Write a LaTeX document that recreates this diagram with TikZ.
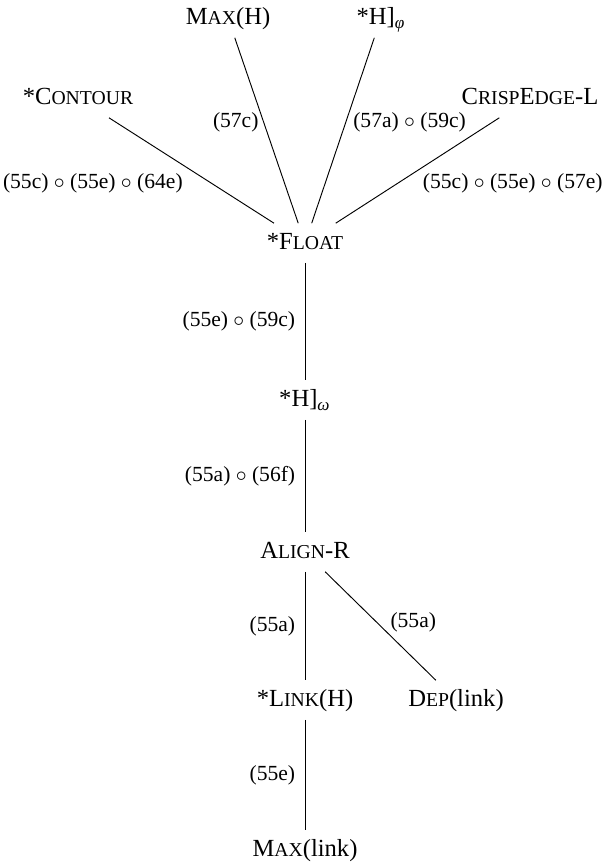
\documentclass[tikz,border=0pt]{standalone}
\usepackage{fontspec}
\setmainfont{Liberation Serif}
\usetikzlibrary{positioning}
\newcommand{\sca}[2]{#1{\fontsize{8.4pt}{10pt}\selectfont #2}}
\begin{document}
\begin{tikzpicture}[x=0.015cm,y=-0.015cm,
  cand/.style={font=\fontsize{10.5pt}{12pt}\selectfont, text height=8pt, text depth=2.5pt, inner sep=3pt},
  rule/.style={font=\fontsize{9.2pt}{11pt}\selectfont, inner sep=4pt}]
\useasboundingbox (0,0) rectangle (605,865);
\node[cand] (maxh) at (228,18) {\sca{M}{AX}(H)};
\node[cand] (hphi) at (381,18) {*H]\textsubscript{\itshape φ}};
\node[cand] (contour) at (78,98) {*\sca{C}{ONTOUR}};
\node[cand] (crisp) at (530,98) {\sca{C}{RISP}\sca{E}{DGE}-L};
\node[cand] (float) at (305,243) {*\sca{F}{LOAT}};
\node[cand] (homega) at (305,400) {*H]\textsubscript{\itshape ω}};
\node[cand] (align) at (305,552) {\sca{A}{LIGN}-R};
\node[cand] (link) at (305,700) {*\sca{L}{INK}(H)};
\node[cand] (dep) at (456,700) {\sca{D}{EP}(link)};
\node[cand] (maxlink) at (305,850) {\sca{M}{AX}(link)};

\draw (contour) -- node[rule, pos=0.62, left=8pt] {(55c) $\circ$ (55e) $\circ$ (64e)} (float);
\draw (maxh) -- node[rule, pos=0.455, left, inner sep=2pt] {(57c)} (float);
\draw (hphi) -- node[rule, pos=0.455, right, inner sep=3pt] {(57a) $\circ$ (59c)} (float);
\draw (crisp) -- node[rule, pos=0.62, right=6.5pt] {(55c) $\circ$ (55e) $\circ$ (57e)} (float);

\draw (float) -- node[rule, left] {(55e) $\circ$ (59c)} (homega);
\draw (homega) -- node[rule, left] {(55a) $\circ$ (56f)} (align);
\draw (align) -- node[rule, left] {(55a)} (link);
\draw (align) -- node[rule, pos=0.47, right=1.5pt] {(55a)} (dep);
\draw (link) -- node[rule, left] {(55e)} (maxlink);
\end{tikzpicture}
\end{document}
